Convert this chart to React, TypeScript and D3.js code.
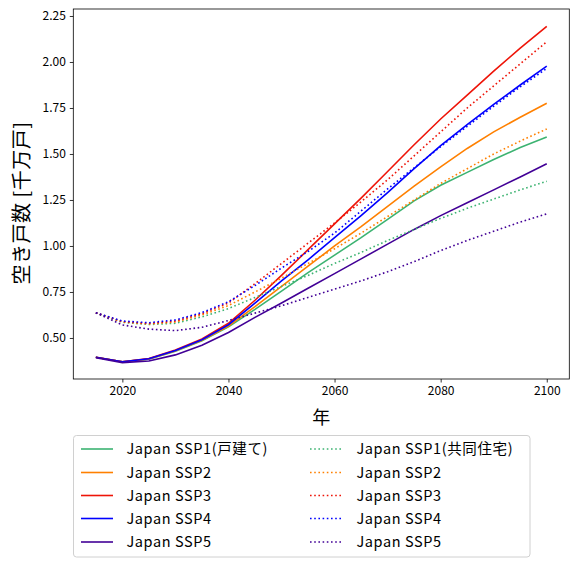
import { useRef, useEffect } from "react";
import * as d3 from "d3";

const years = [2015, 2020, 2025, 2030, 2035, 2040, 2045, 2050, 2055, 2060, 2065, 2070, 2075, 2080, 2085, 2090, 2095, 2100];

// 戸建て (solid)
const detachedSSP1 = [0.395, 0.371, 0.385, 0.428, 0.485, 0.56, 0.655, 0.755, 0.855, 0.95, 1.045, 1.145, 1.245, 1.33, 1.4, 1.47, 1.535, 1.592];
const detachedSSP2 = [0.395, 0.371, 0.386, 0.43, 0.488, 0.565, 0.67, 0.78, 0.89, 1.0, 1.105, 1.215, 1.325, 1.43, 1.53, 1.62, 1.7, 1.776];
const detachedSSP3 = [0.395, 0.371, 0.388, 0.435, 0.495, 0.58, 0.705, 0.84, 0.98, 1.12, 1.26, 1.405, 1.55, 1.69, 1.82, 1.95, 2.075, 2.194];
const detachedSSP4 = [0.395, 0.371, 0.387, 0.432, 0.49, 0.572, 0.69, 0.81, 0.925, 1.045, 1.165, 1.29, 1.42, 1.545, 1.66, 1.77, 1.875, 1.978];
const detachedSSP5 = [0.393, 0.366, 0.375, 0.408, 0.46, 0.53, 0.612, 0.69, 0.77, 0.85, 0.93, 1.01, 1.09, 1.165, 1.235, 1.305, 1.375, 1.447];

// 共同住宅 (dotted)
const apartmentSSP1 = [0.637, 0.585, 0.573, 0.58, 0.615, 0.66, 0.72, 0.78, 0.84, 0.905, 0.965, 1.03, 1.09, 1.15, 1.205, 1.255, 1.305, 1.352];
const apartmentSSP2 = [0.637, 0.587, 0.576, 0.587, 0.625, 0.676, 0.75, 0.825, 0.905, 0.985, 1.07, 1.16, 1.25, 1.34, 1.42, 1.5, 1.57, 1.636];
const apartmentSSP3 = [0.637, 0.589, 0.579, 0.592, 0.632, 0.69, 0.795, 0.905, 1.015, 1.125, 1.24, 1.36, 1.49, 1.62, 1.75, 1.87, 1.99, 2.11];
const apartmentSSP4 = [0.637, 0.592, 0.583, 0.598, 0.638, 0.697, 0.785, 0.88, 0.97, 1.07, 1.19, 1.31, 1.425, 1.54, 1.65, 1.76, 1.865, 1.965];
const apartmentSSP5 = [0.637, 0.571, 0.548, 0.54, 0.558, 0.595, 0.635, 0.675, 0.72, 0.765, 0.81, 0.86, 0.915, 0.975, 1.03, 1.08, 1.13, 1.174];

const colors = ["#3cb371", "#ff8000", "#ee1408", "#0000ff", "#420096"];
const detachedLabels = ["Japan SSP1(戸建て)", "Japan SSP2", "Japan SSP3", "Japan SSP4", "Japan SSP5"];
const apartmentLabels = ["Japan SSP1(共同住宅)", "Japan SSP2", "Japan SSP3", "Japan SSP4", "Japan SSP5"];
const yTicks = [0.5, 0.75, 1.0, 1.25, 1.5, 1.75, 2.0, 2.25];
const xTicks = [2020, 2040, 2060, 2080, 2100];

const detached = [detachedSSP1, detachedSSP2, detachedSSP3, detachedSSP4, detachedSSP5];
const apartment = [apartmentSSP1, apartmentSSP2, apartmentSSP3, apartmentSSP4, apartmentSSP5];

const W = 578;
const H = 567;
const FONT = "'Noto Sans CJK JP', sans-serif";

export default function App() {
  const svgRef = useRef<SVGSVGElement | null>(null);

  useEffect(() => {
    if (!svgRef.current) return;
    const svg = d3.select(svgRef.current);
    svg.selectAll("*").remove();

    const left = 73.3, right = 569.3, top = 9, bottom = 379;

    // matplotlib-like 5% margins around the data range
    const x = d3.scaleLinear().domain([2010.75, 2104.25]).range([left, right]);
    const y = d3.scaleLinear().domain([0.277, 2.288]).range([bottom, top]);

    const line = d3
      .line<number>()
      .x((_, i) => x(years[i]))
      .y((d) => y(d));

    const plot = svg.append("g");

    // Draw solid series first, then dotted ones on top
    detached.forEach((s, i) => {
      plot.append("path")
        .attr("d", line(s) as string)
        .attr("fill", "none")
        .attr("stroke", colors[i])
        .attr("stroke-width", 1.6);
    });
    apartment.forEach((s, i) => {
      plot.append("path")
        .attr("d", line(s) as string)
        .attr("fill", "none")
        .attr("stroke", colors[i])
        .attr("stroke-width", 1.6)
        .attr("stroke-dasharray", "1.6,2.6");
    });

    // axes
    const xAxis = svg.append("g")
      .attr("transform", `translate(0,${bottom})`)
      .call(d3.axisBottom(x).tickValues(xTicks).tickFormat(d3.format("d")).tickSizeOuter(0).tickSize(3.5).tickPadding(4));
    const yAxis = svg.append("g")
      .attr("transform", `translate(${left},0)`)
      .call(d3.axisLeft(y).tickValues(yTicks).tickFormat(d3.format(".2f")).tickSizeOuter(0).tickSize(3.5).tickPadding(4));
    [xAxis, yAxis].forEach((a) => {
      a.select(".domain").remove();
      a.selectAll("line").attr("stroke", "#000").attr("stroke-width", 0.8);
      a.selectAll("text").attr("font-family", FONT).attr("font-size", 12).attr("fill", "#000");
    });

    svg.append("rect")
      .attr("x", left).attr("y", top)
      .attr("width", right - left).attr("height", bottom - top)
      .attr("fill", "none").attr("stroke", "#000").attr("stroke-width", 0.8);

    // axis labels
    svg.append("text")
      .attr("x", (left + right) / 2).attr("y", 424)
      .attr("text-anchor", "middle")
      .attr("font-family", FONT).attr("font-size", 18)
      .text("年");
    svg.append("text")
      .attr("transform", `translate(29,${(top + bottom) / 2 + 9}) rotate(-90)`)
      .attr("text-anchor", "middle")
      .attr("font-family", FONT).attr("font-size", 20)
      .attr("letter-spacing", 0.5)
      .text("空き戸数 [千万戸]");

    // legend
    const legend = svg.append("g");
    legend.append("rect")
      .attr("x", 73.5).attr("y", 435.5)
      .attr("width", 456.5).attr("height", 121.5)
      .attr("rx", 3)
      .attr("fill", "#fff").attr("stroke", "#d0d0d0").attr("stroke-width", 1);

    const rowY = [449, 472.5, 495.5, 518.5, 542];
    const columns = [
      { labels: detachedLabels, lx: 81, tx: 126.5, dash: null as string | null },
      { labels: apartmentLabels, lx: 310, tx: 356.5, dash: "1.6,2.6" },
    ];
    columns.forEach((col) => {
      col.labels.forEach((lab, i) => {
        const ln = legend.append("line")
          .attr("x1", col.lx).attr("x2", col.lx + 32)
          .attr("y1", rowY[i]).attr("y2", rowY[i])
          .attr("stroke", colors[i]).attr("stroke-width", 1.6);
        if (col.dash) ln.attr("stroke-dasharray", col.dash);
        legend.append("text")
          .attr("x", col.tx).attr("y", rowY[i] + 5)
          .attr("font-family", FONT).attr("font-size", 14.5)
          .attr("letter-spacing", 0.6)
          .text(lab);
      });
    });
  }, []);

  return (
    <svg
      ref={svgRef}
      width={W}
      height={H}
      style={{ position: "absolute", left: 0, top: 0, background: "#fff" }}
    />
  );
}
